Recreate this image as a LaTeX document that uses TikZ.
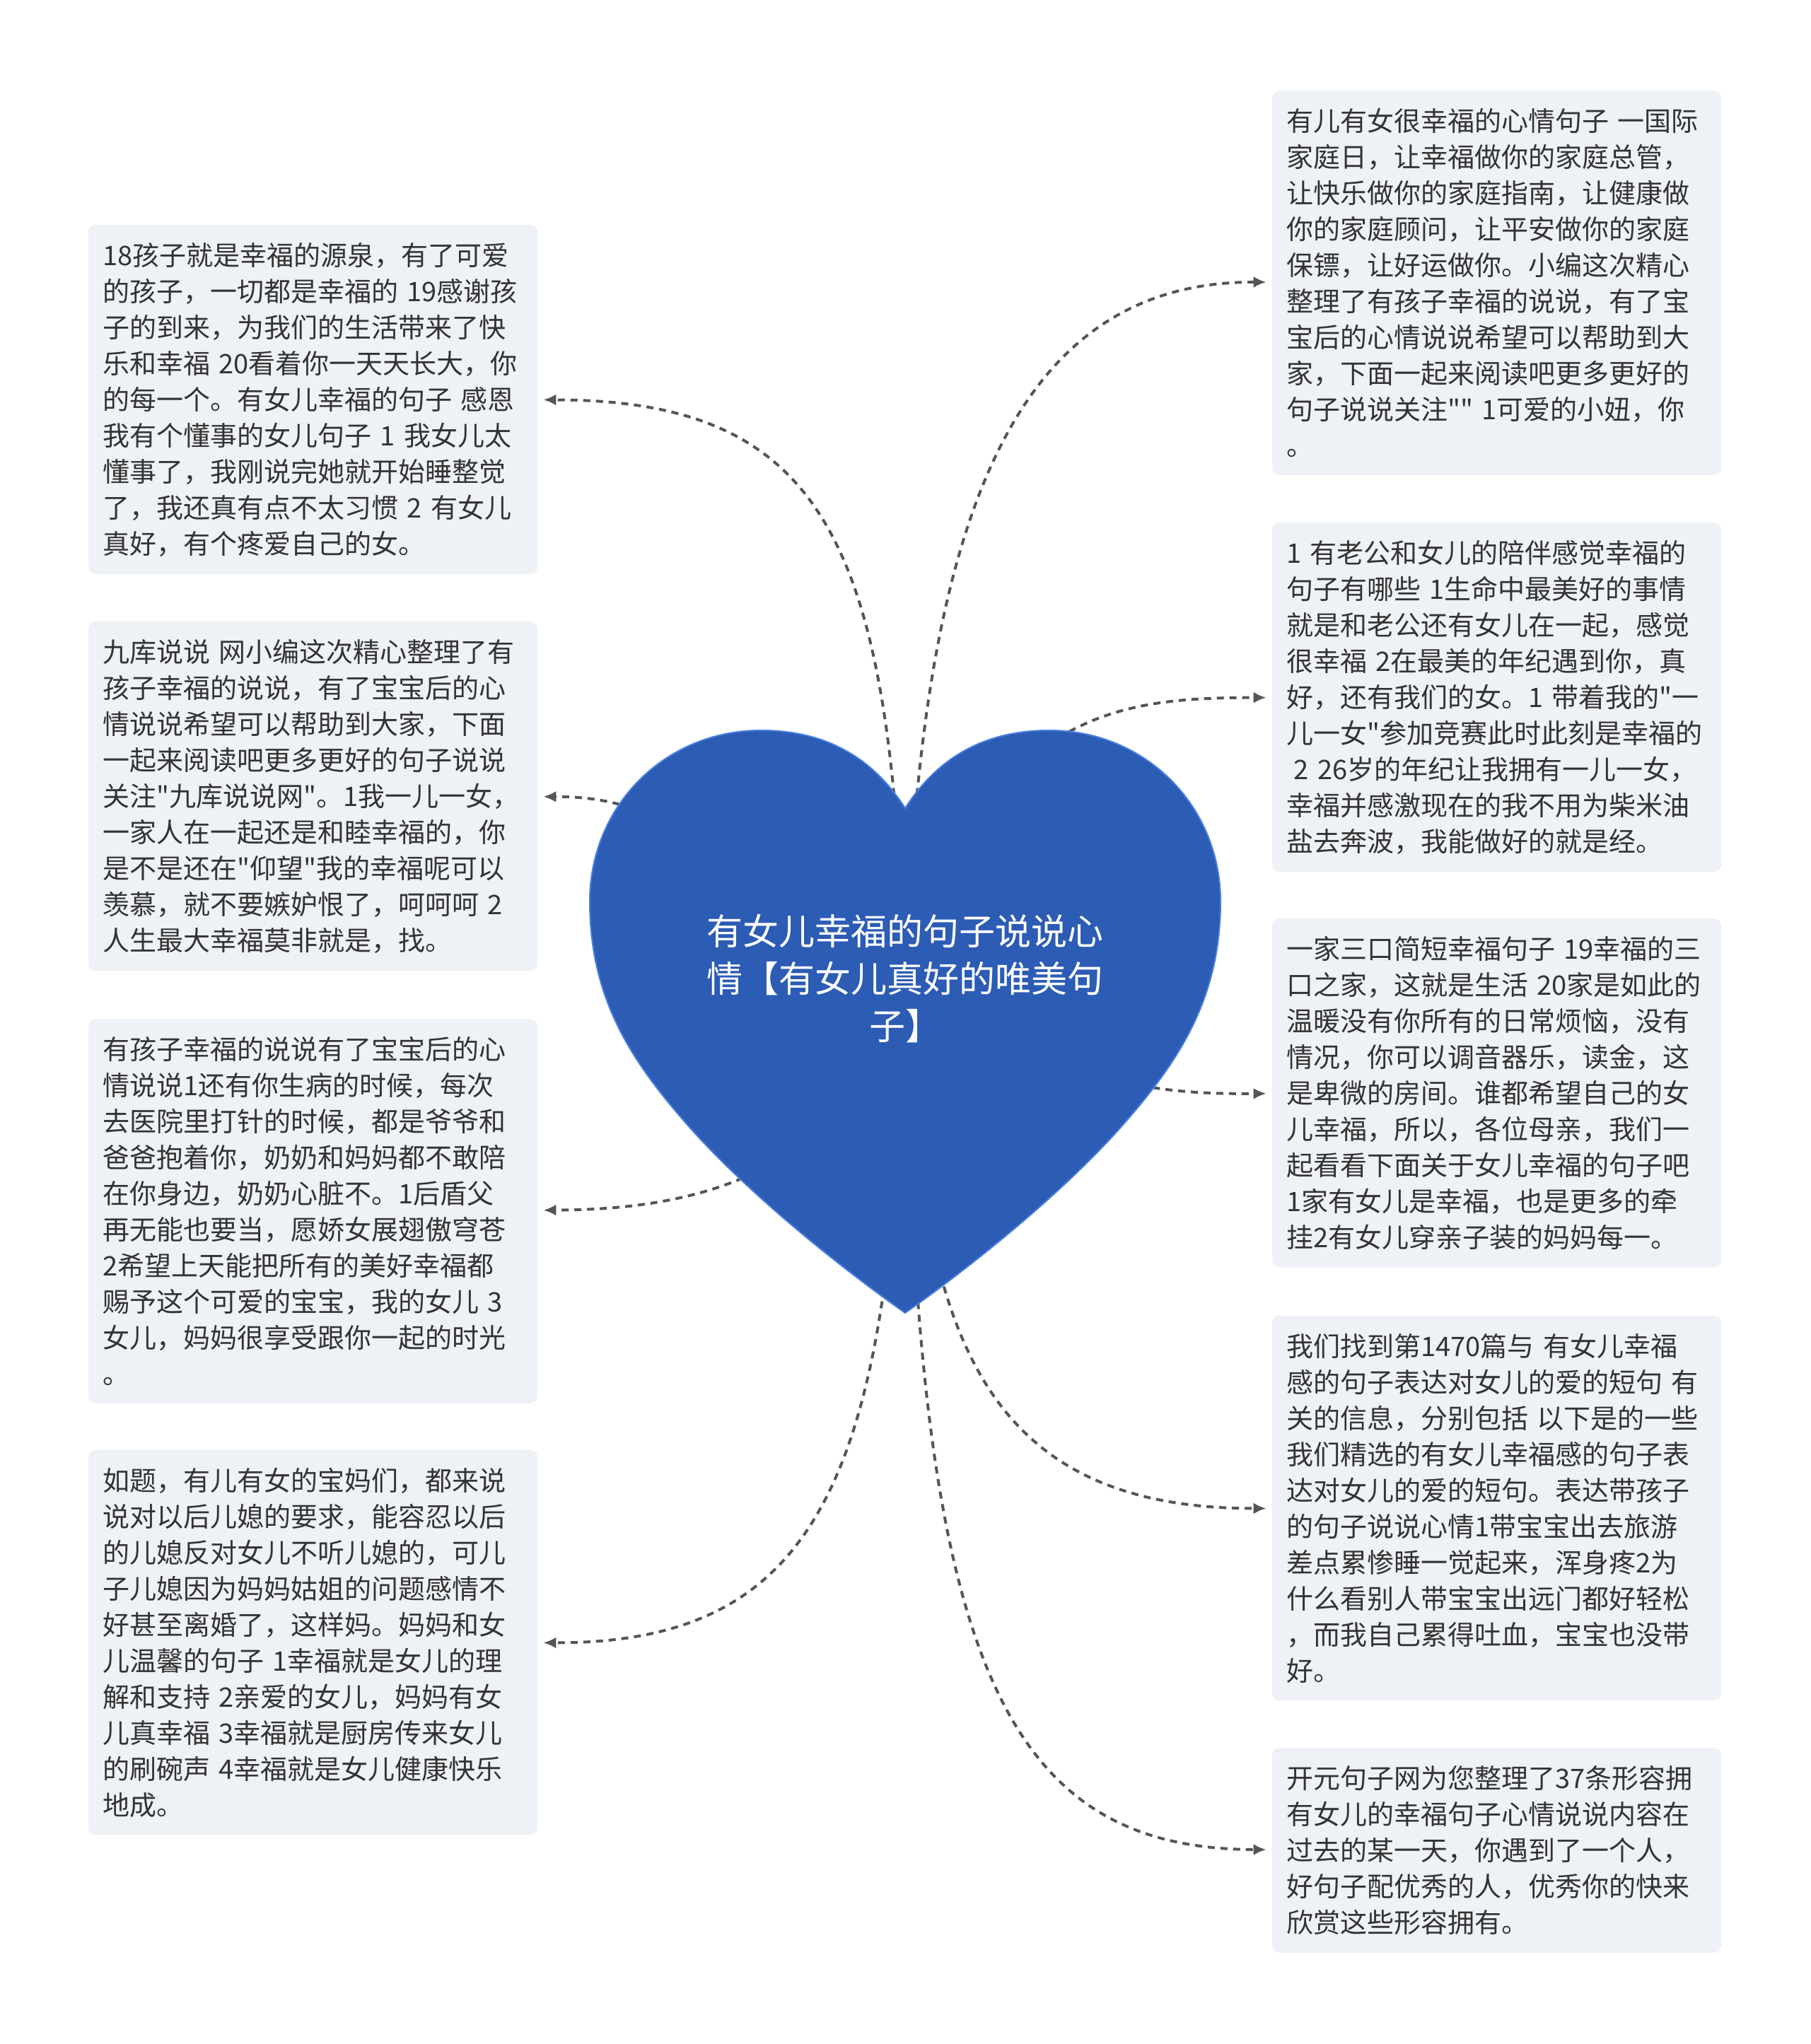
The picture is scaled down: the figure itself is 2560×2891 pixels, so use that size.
\documentclass[tikz,border=0pt]{standalone}
\usepackage{fontspec}
\newfontfamily\cjkfont{Noto Sans CJK SC}
\usetikzlibrary{arrows.meta}
\definecolor{heartblue}{RGB}{44,92,180}
\definecolor{heartrim}{RGB}{74,128,224}
\definecolor{leaffill}{RGB}{238,241,245}
\definecolor{leaftext}{RGB}{51,51,51}
\definecolor{linkgray}{RGB}{85,85,85}
\pgfdeclarelayer{edgelayer}
\pgfdeclarelayer{nodelayer}
\pgfsetlayers{edgelayer,nodelayer,main}
\tikzstyle{link}=[draw=linkgray, line width=2pt, dash pattern=on 5pt off 4pt, -{Latex[length=9pt,width=8pt]}, shorten >=4pt]
\tikzstyle{leaf}=[rectangle, rounded corners=5pt, fill=leaffill, text=leaftext, minimum width=317.5pt, text width=297.5pt, inner xsep=10pt, inner ysep=12.5pt, align=left, font=\cjkfont\fontsize{19pt}{25.5pt}\selectfont]
\tikzstyle{heart}=[fill=heartblue, draw=heartrim, line width=1pt]
\tikzstyle{topic}=[text=white, align=center, font=\cjkfont\fontsize{25.5pt}{33.5pt}\selectfont]

\begin{document}
\begin{tikzpicture}[x=0.5pt, y=-0.5pt]
	\useasboundingbox (0,0) rectangle (2560,2891);
	\begin{pgfonlayer}{nodelayer}
	\draw [style=heart] (1280,1143) .. controls (1330,1065) and (1400,1033) .. (1484,1033)
		.. controls (1620,1033) and (1726,1140) .. (1726,1275)
		.. controls (1726,1420) and (1660,1510) .. (1580,1600)
		.. controls (1480,1710) and (1340,1815) .. (1280,1857)
		.. controls (1220,1815) and (1080,1710) .. (980,1600)
		.. controls (900,1510) and (834,1420) .. (834,1275)
		.. controls (834,1140) and (940,1033) .. (1076,1033)
		.. controls (1160,1033) and (1230,1065) .. (1280,1143) -- cycle;
	\node [style=leaf] (1) at (442.5,565) {18孩子就是幸福的源泉，有了可爱\\的孩子，一切都是幸福的 19感谢孩\\子的到来，为我们的生活带来了快\\乐和幸福 20看着你一天天长大，你\\的每一个。有女儿幸福的句子 感恩\\我有个懂事的女儿句子 1 我女儿太\\懂事了，我刚说完她就开始睡整觉\\了，我还真有点不太习惯 2 有女儿\\真好，有个疼爱自己的女。};
	\node [style=leaf] (2) at (442.5,1126) {九库说说 网小编这次精心整理了有\\孩子幸福的说说，有了宝宝后的心\\情说说希望可以帮助到大家，下面\\一起来阅读吧更多更好的句子说说\\关注"九库说说网"。1我一儿一女，\\一家人在一起还是和睦幸福的，你\\是不是还在"仰望"我的幸福呢可以\\羡慕，就不要嫉妒恨了，呵呵呵 2\\人生最大幸福莫非就是，找。};
	\node [style=leaf] (3) at (442.5,1713) {有孩子幸福的说说有了宝宝后的心\\情说说1还有你生病的时候，每次\\去医院里打针的时候，都是爷爷和\\爸爸抱着你，奶奶和妈妈都不敢陪\\在你身边，奶奶心脏不。1后盾父\\再无能也要当，愿娇女展翅傲穹苍\\2希望上天能把所有的美好幸福都\\赐予这个可爱的宝宝，我的女儿 3\\女儿，妈妈很享受跟你一起的时光\\。};
	\node [style=leaf] (4) at (442.5,2323) {如题，有儿有女的宝妈们，都来说\\说对以后儿媳的要求，能容忍以后\\的儿媳反对女儿不听儿媳的，可儿\\子儿媳因为妈妈姑姐的问题感情不\\好甚至离婚了，这样妈。妈妈和女\\儿温馨的句子 1幸福就是女儿的理\\解和支持 2亲爱的女儿，妈妈有女\\儿真幸福 3幸福就是厨房传来女儿\\的刷碗声 4幸福就是女儿健康快乐\\地成。};
	\node [style=leaf] (5) at (2116.5,400) {有儿有女很幸福的心情句子 一国际\\家庭日，让幸福做你的家庭总管，\\让快乐做你的家庭指南，让健康做\\你的家庭顾问，让平安做你的家庭\\保镖，让好运做你。小编这次精心\\整理了有孩子幸福的说说，有了宝\\宝后的心情说说希望可以帮助到大\\家，下面一起来阅读吧更多更好的\\句子说说关注"" 1可爱的小妞，你\\。};
	\node [style=leaf] (6) at (2116.5,986) {1 有老公和女儿的陪伴感觉幸福的\\句子有哪些 1生命中最美好的事情\\就是和老公还有女儿在一起，感觉\\很幸福 2在最美的年纪遇到你，真\\好，还有我们的女。1 带着我的"一\\儿一女"参加竞赛此时此刻是幸福的\\\hspace*{0.28em}2 26岁的年纪让我拥有一儿一女，\\幸福并感激现在的我不用为柴米油\\盐去奔波，我能做好的就是经。};
	\node [style=leaf] (7) at (2116.5,1546) {一家三口简短幸福句子 19幸福的三\\口之家，这就是生活 20家是如此的\\温暖没有你所有的日常烦恼，没有\\情况，你可以调音器乐，读金，这\\是卑微的房间。谁都希望自己的女\\儿幸福，所以，各位母亲，我们一\\起看看下面关于女儿幸福的句子吧\\1家有女儿是幸福，也是更多的牵\\挂2有女儿穿亲子装的妈妈每一。};
	\node [style=leaf] (8) at (2116.5,2133) {我们找到第1470篇与 有女儿幸福\\感的句子表达对女儿的爱的短句 有\\关的信息，分别包括 以下是的一些\\我们精选的有女儿幸福感的句子表\\达对女儿的爱的短句。表达带孩子\\的句子说说心情1带宝宝出去旅游\\差点累惨睡一觉起来，浑身疼2为\\什么看别人带宝宝出远门都好轻松\\，而我自己累得吐血，宝宝也没带\\好。};
	\node [style=leaf] (9) at (2116.5,2617) {开元句子网为您整理了37条形容拥\\有女儿的幸福句子心情说说内容在\\过去的某一天，你遇到了一个人，\\好句子配优秀的人，优秀你的快来\\欣赏这些形容拥有。};
	\end{pgfonlayer}
	\node [style=topic] (0) at (1280,1384) {有女儿幸福的句子说说心\\情【有女儿真好的唯美句\\子】};
	\begin{pgfonlayer}{edgelayer}
	\draw [style=link] (0) .. controls (1250,750) and (1150,566) .. (1);
	\draw [style=link] (0) .. controls (950,1150) and (880,1127) .. (2);
	\draw [style=link] (0) .. controls (1150,1690) and (920,1711) .. (3);
	\draw [style=link] (0) .. controls (1255,2100) and (1150,2324) .. (4);
	\draw [style=link] (0) .. controls (1315,700) and (1450,398) .. (5);
	\draw [style=link] (0) .. controls (1430,1000) and (1600,987) .. (6);
	\draw [style=link] (0) .. controls (1580,1547) and (1700,1547) .. (7);
	\draw [style=link] (0) .. controls (1310,1900) and (1400,2134) .. (8);
	\draw [style=link] (0) .. controls (1300,2350) and (1420,2615) .. (9);
	\end{pgfonlayer}
\end{tikzpicture}
\end{document}
